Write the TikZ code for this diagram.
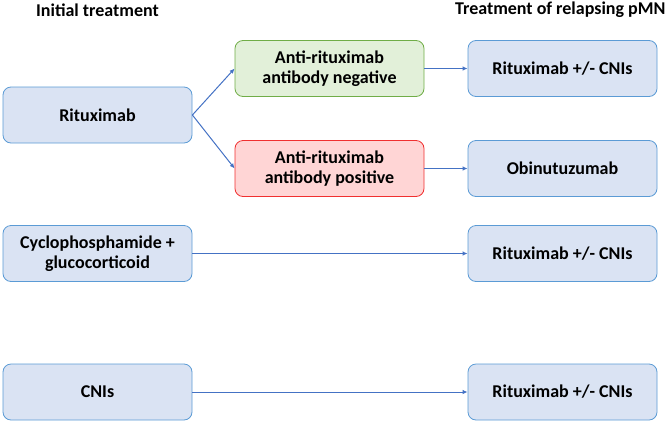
\documentclass[tikz,border=0pt]{standalone}
\usepackage{fontspec}
\setmainfont{Carlito}
\usetikzlibrary{arrows.meta}

\definecolor{boxblue}{HTML}{DAE3F3}
\definecolor{lineblue}{HTML}{5B9BD5}
\definecolor{arrowblue}{HTML}{4472C4}
\definecolor{boxgreen}{HTML}{E2F0D9}
\definecolor{linegreen}{HTML}{70AD47}
\definecolor{boxred}{HTML}{FFD5D5}
\definecolor{linered}{HTML}{F03030}

\begin{document}
\begin{tikzpicture}[x=1pt, y=1pt,
		box/.style={draw=lineblue, fill=boxblue, line width=0.8pt, rounded corners=8pt,
			minimum width=189pt, minimum height=56pt, inner sep=0pt, align=center,
			font=\bfseries\fontsize{18}{19.5}\selectfont},
		negbox/.style={box, draw=linegreen, fill=boxgreen},
		posbox/.style={box, draw=linered, fill=boxred},
		heading/.style={font=\bfseries\fontsize{18}{19.5}\selectfont},
		link/.style={draw=arrowblue, line width=1pt, -{Latex[length=5pt, width=4.5pt]}}]
	\useasboundingbox (0,0) rectangle (669,-426);
	
	\node[heading] (init) at (97.5,-10) {Initial treatment};
	\node[heading, anchor=east] (relapse) at (669,-10) {Treatment of relapsing pMN};
	
	\node[box] (ritux) at (97.5,-115) {Rituximab};
	\node[negbox] (neg) at (329.5,-68.5) {Anti-rituximab\\antibody negative};
	\node[posbox] (pos) at (329.5,-168.5) {Anti-rituximab\\antibody positive};
	\node[box] (rituxA) at (562.5,-68.5) {Rituximab +/- CNIs};
	\node[box] (obinu) at (562.5,-168.5) {Obinutuzumab};
	
	\node[box] (cyclo) at (97.5,-253.5) {Cyclophosphamide +\\glucocorticoid};
	\node[box] (rituxB) at (562.5,-253.5) {Rituximab +/- CNIs};
	
	\node[box] (cni) at (97.5,-392) {CNIs};
	\node[box] (rituxC) at (562.5,-392) {Rituximab +/- CNIs};
	
	\draw[link] (ritux.east) -- (neg.west);
	\draw[link] (ritux.east) -- (pos.west);
	\draw[link] (neg) -- (rituxA);
	\draw[link] (pos) -- (obinu);
	\draw[link] (cyclo) -- (rituxB);
	\draw[link] (cni) -- (rituxC);
	
\end{tikzpicture}
\end{document}
